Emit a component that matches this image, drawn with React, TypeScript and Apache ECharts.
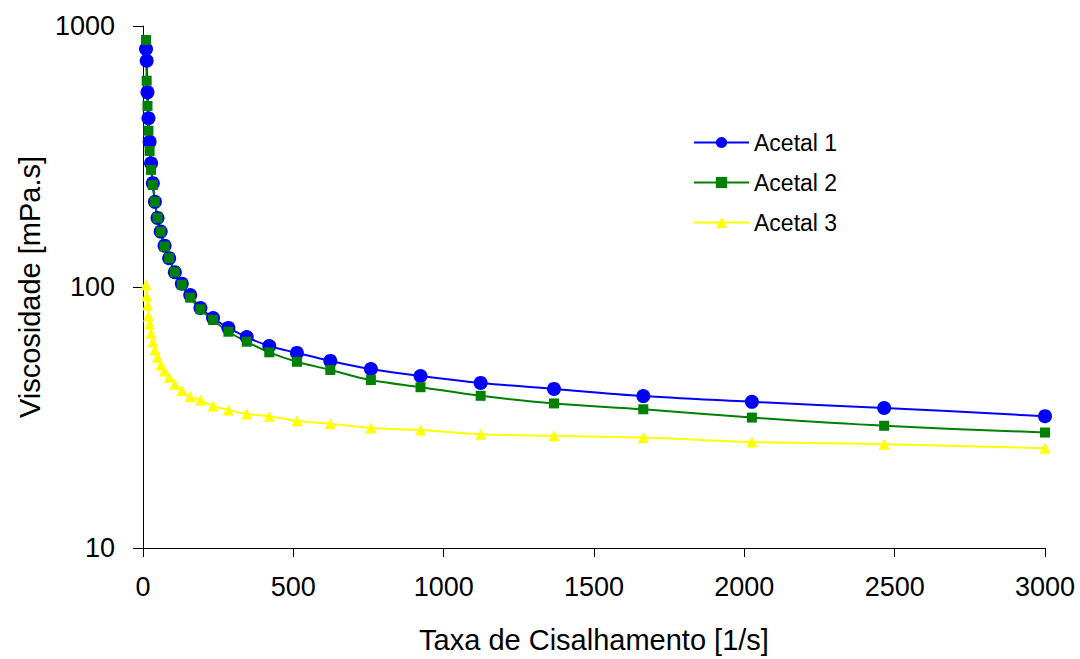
import React, { useEffect, useRef } from "react";
import * as echarts from "echarts";

const shearRate = [10, 12.2, 14.9, 18.1, 22, 26.8, 32.6, 39.7, 48.3, 58.8, 71.6, 87, 106, 129, 157, 191, 233, 284, 345, 420, 512, 623, 758, 923, 1123, 1367, 1664, 2025, 2465, 3000];

const acetal1 = [816, 736, 557, 443, 360, 298, 250, 212, 184, 163, 144, 129, 114, 103, 93.2, 83.1, 76.1, 69.7, 64.3, 59.4, 55.9, 52.1, 48.5, 45.6, 42.9, 40.7, 38.2, 36.3, 34.4, 32.0];

const acetal2 = [884, 617, 494, 397, 332, 281, 246, 212, 184, 163, 143, 129, 114, 102, 91, 82.1, 74.8, 67.4, 61.7, 56.2, 51.7, 48.1, 44.0, 41.3, 38.3, 35.8, 34.0, 31.6, 29.4, 27.7];

const acetal3 = [102, 92.4, 85.3, 77.4, 72.2, 66.5, 61.7, 57.4, 53.8, 50.2, 47.7, 45.1, 42.4, 40.1, 38.0, 36.9, 35.0, 33.8, 32.6, 32.0, 30.7, 29.9, 28.8, 28.3, 27.3, 26.9, 26.5, 25.5, 25.0, 24.1];

const seriesNames = ["Acetal 1", "Acetal 2", "Acetal 3"];
const xTitle = "Taxa de Cisalhamento [1/s]";
const yTitle = "Viscosidade [mPa.s]";

const FONT = "'Liberation Sans', Arial, sans-serif";

export default function App() {
  const ref = useRef<HTMLDivElement>(null);
  useEffect(() => {
    document.body.style.margin = "0";
    const chart = echarts.init(ref.current!, null, { renderer: "svg" });
    const pairs = (ys: number[]) => shearRate.map((x, i) => [x, ys[i]]);
    const mk = (name: string, ys: number[], color: string, symbol: string, size: number) => ({
      name,
      type: "line",
      data: pairs(ys),
      smooth: 0.35,
      symbol,
      symbolSize: size,
      showAllSymbol: true,
      lineStyle: { color, width: 2 },
      itemStyle: { color, borderWidth: 0 },
      emphasis: { disabled: true },
    });
    chart.setOption({
      animation: false,
      backgroundColor: "#ffffff",
      textStyle: { fontFamily: FONT },
      grid: { left: 143, right: 35, top: 26, bottom: 111 },
      legend: {
        orient: "vertical",
        left: 688,
        top: 126,
        itemWidth: 55,
        itemHeight: 14,
        itemGap: 17,
        data: seriesNames,
        textStyle: { fontSize: 23, color: "#000", fontFamily: FONT, lineHeight: 23 },
      },
      xAxis: {
        type: "value",
        min: 0,
        max: 3000,
        interval: 500,
        name: xTitle,
        nameLocation: "middle",
        nameGap: 77,
        nameTextStyle: { fontSize: 29, color: "#000", fontFamily: FONT },
        axisLine: { lineStyle: { color: "#000", width: 1 } },
        axisTick: { show: true, length: 9, lineStyle: { color: "#000" } },
        axisLabel: { fontSize: 27, color: "#000", margin: 25, fontFamily: FONT, formatter: (v: number) => String(v) },
        splitLine: { show: false },
      },
      yAxis: {
        type: "log",
        logBase: 10,
        min: 10,
        max: 1000,
        name: yTitle,
        nameLocation: "middle",
        nameGap: 97,
        nameTextStyle: { fontSize: 29, color: "#000", fontFamily: FONT },
        axisLine: { show: true, lineStyle: { color: "#000", width: 1 } },
        axisTick: { show: true, length: 10, lineStyle: { color: "#000" } },
        axisLabel: { fontSize: 27, color: "#000", margin: 28, fontFamily: FONT, formatter: (v: number) => String(Math.round(v)) },
        splitLine: { show: false },
        minorTick: { show: false },
      },
      series: [
        mk(seriesNames[0], acetal1, "#0000ff", "circle", 14),
        mk(seriesNames[1], acetal2, "#008000", "rect", 10),
        mk(seriesNames[2], acetal3, "#ffff00", "triangle", 11),
      ],
    });
    return () => chart.dispose();
  }, []);
  return <div ref={ref} style={{ width: 1080, height: 659 }} />;
}
